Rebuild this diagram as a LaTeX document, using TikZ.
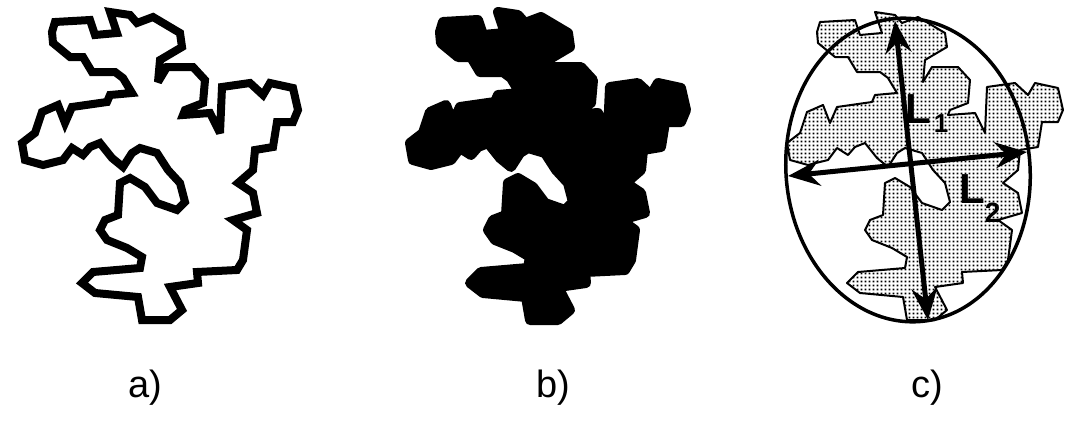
\documentclass[tikz,border=0pt]{standalone}
\usepackage{fontspec}
\setmainfont{Liberation Sans}
\usetikzlibrary{arrows.meta,patterns}
\pgfdeclarepatternformonly{mydots}{\pgfpointorigin}{\pgfpoint{4pt}{4pt}}{\pgfpoint{4pt}{4pt}}{\pgfpathrectangle{\pgfpoint{0.8pt}{0.8pt}}{\pgfpoint{2.3pt}{2.3pt}}\pgfusepath{fill}}
\tikzset{
  blob/.pic={\path[pic actions] (55,22) -- (90,20) -- (95,35) -- (117,33) -- (110,12) -- (130,15) -- (137,23) -- (153,17) -- (180,33) -- (182,47) -- (160,60) -- (158,82) -- (167,67) -- (193,67) -- (205,80) -- (203,103) -- (185,110) -- (183,115) -- (210,113) -- (220,133) -- (222,87) -- (250,83) -- (263,95) -- (270,83) -- (293,88) -- (298,110) -- (293,122) -- (277,122) -- (273,147) -- (255,150) -- (253,170) -- (238,183) -- (253,193) -- (257,213) -- (233,220) -- (247,230) -- (243,260) -- (237,270) -- (197,272) -- (198,283) -- (170,287) -- (182,310) -- (170,320) -- (142,320) -- (138,297) -- (95,293) -- (82,283) -- (93,272) -- (140,268) -- (142,257) -- (127,248) -- (107,240) -- (100,230) -- (105,220) -- (118,215) -- (120,183) -- (130,178) -- (145,187) -- (157,203) -- (177,210) -- (185,202) -- (180,183) -- (168,170) -- (157,153) -- (140,148) -- (132,153) -- (123,167) -- (112,158) -- (100,143) -- (90,147) -- (83,155) -- (72,148) -- (63,160) -- (43,165) -- (25,160) -- (22,143) -- (35,133) -- (42,112) -- (58,105) -- (65,123) -- (72,107) -- (107,102) -- (110,95) -- (132,93) -- (123,78) -- (115,72) -- (92,72) -- (83,57) -- (70,57) -- (53,43) -- (52,32) -- cycle;},
  outlineblob/.style={draw=black, line width=8pt, line join=miter, miter limit=3},
  solidblob/.style={fill=black, draw=black, line width=10pt, line join=round},
  dotblob/.style={pattern=mydots, pattern color=black, draw=black, line width=2pt, line join=round},
  axisarrow/.style={line width=5pt, {Stealth[length=32pt,width=26pt,inset=11pt]}-{Stealth[length=32pt,width=26pt,inset=11pt]}},
  caption/.style={font=\fontsize{38}{38}\selectfont, inner sep=0pt},
  axlabel/.style={font=\bfseries\fontsize{42}{42}\selectfont, inner sep=0pt}
}
\begin{document}
\begin{tikzpicture}[x=1pt,y=-1pt]
\useasboundingbox (0,0) rectangle (1079,431);
\fill[white] (0,0) rectangle (1079,431);
% a)
\pic[outlineblob] (shapeA) at (0,0) {blob};
% b)
\pic[solidblob] (shapeB) at (388,0) {blob};
% c)
\pic[dotblob] (shapeC) at (765,0) {blob};
\draw[line width=3.5pt, rotate around={5:(908,170)}] (908,170) ellipse [x radius=122, y radius=152];
\coordinate (l1top) at (895,21);
\coordinate (l1bot) at (928,320);
\coordinate (l2left) at (788,176);
\coordinate (l2right) at (1027,152);
\draw[axisarrow] (l1top) -- (l1bot);
\draw[axisarrow] (l2left) -- (l2right);
\node[axlabel, anchor=base west] (labL1) at (905,123) {L\hspace{3pt}\raisebox{-9pt}{\fontsize{26}{26}\selectfont 1}};
\node[axlabel, anchor=base west] (labL2) at (959,203) {L\raisebox{-19pt}{\fontsize{28}{28}\selectfont 2}};
% captions
\node[caption, anchor=base] (capA) at (145,397) {a)};
\node[caption, anchor=base] (capB) at (553,397) {b)};
\node[caption, anchor=base] (capC) at (927,397) {c)};
\end{tikzpicture}
\end{document}
